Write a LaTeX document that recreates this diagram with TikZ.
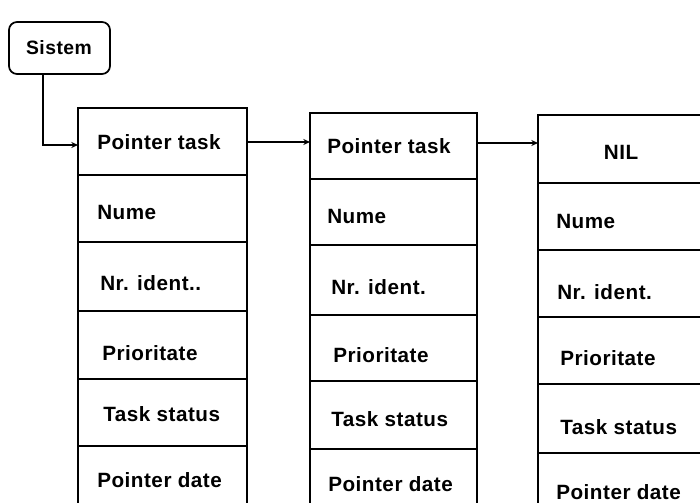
\documentclass[tikz,border=0pt]{standalone}
\usepackage{fontspec}
\newfontfamily\lblfont[LetterSpace=2.5]{Liberation Sans}
\usetikzlibrary{fit,arrows.meta}
\tikzset{
  cell/.style={draw, line width=1.3pt, inner sep=0pt},
  lbl/.style={anchor=west, inner sep=0pt, font=\lblfont\bfseries\fontsize{15.5}{18}\selectfont},
  sysbox/.style={draw, line width=1.3pt, rounded corners=6pt, inner sep=0pt},
  conn/.style={line width=1.3pt, -{Stealth[length=5pt,width=4.5pt]}}
}
\begin{document}
\begin{tikzpicture}[x=0.75pt,y=-0.75pt]
\useasboundingbox (0,0) rectangle (700,503);
\clip (0,0) rectangle (700,503);
% Sistem
\node[sysbox, fit={(9,22) (110,74)}] (sys) {};
\node[lbl, anchor=center, font=\lblfont\bfseries\fontsize{14.5}{17}\selectfont] (systxt) at (59,48) {Sistem};
% column 1
\node[cell, fit={(78,108) (247,175)}] (a1) {};
\node[cell, fit={(78,175) (247,242)}] (a2) {};
\node[cell, fit={(78,242) (247,311)}] (a3) {};
\node[cell, fit={(78,311) (247,379)}] (a4) {};
\node[cell, fit={(78,379) (247,446)}] (a5) {};
\node[cell, fit={(78,446) (247,515)}] (a6) {};
% column 2
\node[cell, fit={(310,113) (477,179)}] (b1) {};
\node[cell, fit={(310,179) (477,245)}] (b2) {};
\node[cell, fit={(310,245) (477,315)}] (b3) {};
\node[cell, fit={(310,315) (477,381)}] (b4) {};
\node[cell, fit={(310,381) (477,449)}] (b5) {};
\node[cell, fit={(310,449) (477,515)}] (b6) {};
% column 3
\node[cell, fit={(538,115) (710,183)}] (c1) {};
\node[cell, fit={(538,183) (710,250)}] (c2) {};
\node[cell, fit={(538,250) (710,317)}] (c3) {};
\node[cell, fit={(538,317) (710,384)}] (c4) {};
\node[cell, fit={(538,384) (710,453)}] (c5) {};
\node[cell, fit={(538,453) (710,515)}] (c6) {};
% labels column 1
\node[lbl] (ta1) at (97,142) {Pointer task};
\node[lbl] (ta2) at (97,212) {Nume};
\node[lbl] (ta3) at (100,283) {Nr. ident..};
\node[lbl] (ta4) at (102,353) {Prioritate};
\node[lbl] (ta5) at (103,414) {Task status};
\node[lbl] (ta6) at (97,480) {Pointer date};
% labels column 2
\node[lbl] (tb1) at (327,146) {Pointer task};
\node[lbl] (tb2) at (327,216) {Nume};
\node[lbl] (tb3) at (331,287) {Nr. ident.};
\node[lbl] (tb4) at (333,355) {Prioritate};
\node[lbl] (tb5) at (331,419) {Task status};
\node[lbl] (tb6) at (328,484) {Pointer date};
% labels column 3
\node[lbl, anchor=center] (tc1) at (621,152) {NIL};
\node[lbl] (tc2) at (556,221) {Nume};
\node[lbl] (tc3) at (557,292) {Nr. ident.};
\node[lbl] (tc4) at (560,358) {Prioritate};
\node[lbl] (tc5) at (560,427) {Task status};
\node[lbl] (tc6) at (556,492) {Pointer date};
% connectors
\coordinate (sd) at (43,74);
\coordinate (ain) at (78,145);
\draw[conn] (sd) |- (ain);
\coordinate (aout) at (247,142);
\coordinate (bin) at (310,142);
\draw[conn] (aout) -- (bin);
\coordinate (bout) at (477,143);
\coordinate (cin) at (538,143);
\draw[conn] (bout) -- (cin);
\end{tikzpicture}
\end{document}
